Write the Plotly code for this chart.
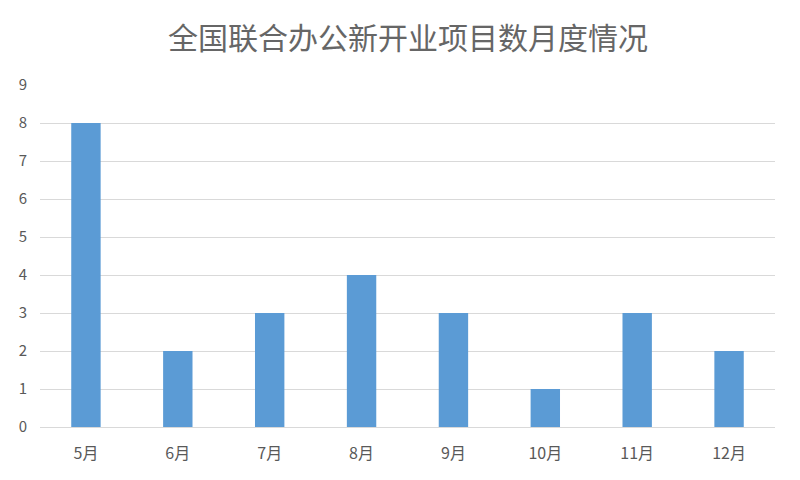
import plotly.graph_objects as go

months = ["5月", "6月", "7月", "8月", "9月", "10月", "11月", "12月"]
counts = [8, 2, 3, 4, 3, 1, 3, 2]
y_ticks = [0, 1, 2, 3, 4, 5, 6, 7, 8, 9]

fig = go.Figure(go.Bar(x=months, y=counts, marker=dict(color="#5B9BD5", line=dict(width=0)), width=0.32))

fig.update_layout(
    width=800, height=480,
    paper_bgcolor="white", plot_bgcolor="white",
    margin=dict(l=32, r=33, t=77, b=61),
    title=dict(text="全国联合办公新开业项目数月度情况", x=0.5, xanchor="center", y=1 - 30 / 480, yanchor="middle",
               font=dict(family="Noto Sans CJK SC", size=30, color="#666666")),
    font=dict(family="Noto Sans CJK SC", size=15, color="#595959"),
    showlegend=False,
)
fig.update_xaxes(showgrid=False, showline=True, linecolor="#d9d9d9", linewidth=1, ticks="",
                 ticklabelstandoff=12, tickfont=dict(size=16, color="#595959"))
fig.update_yaxes(range=[0, 9], tickvals=y_ticks, showgrid=True, gridcolor="#d9d9d9", gridwidth=1,
                 zeroline=False, showline=False, ticks="", ticklabelstandoff=12,
                 tickfont=dict(size=15, color="#595959"))

fig.write_html("out.html")
